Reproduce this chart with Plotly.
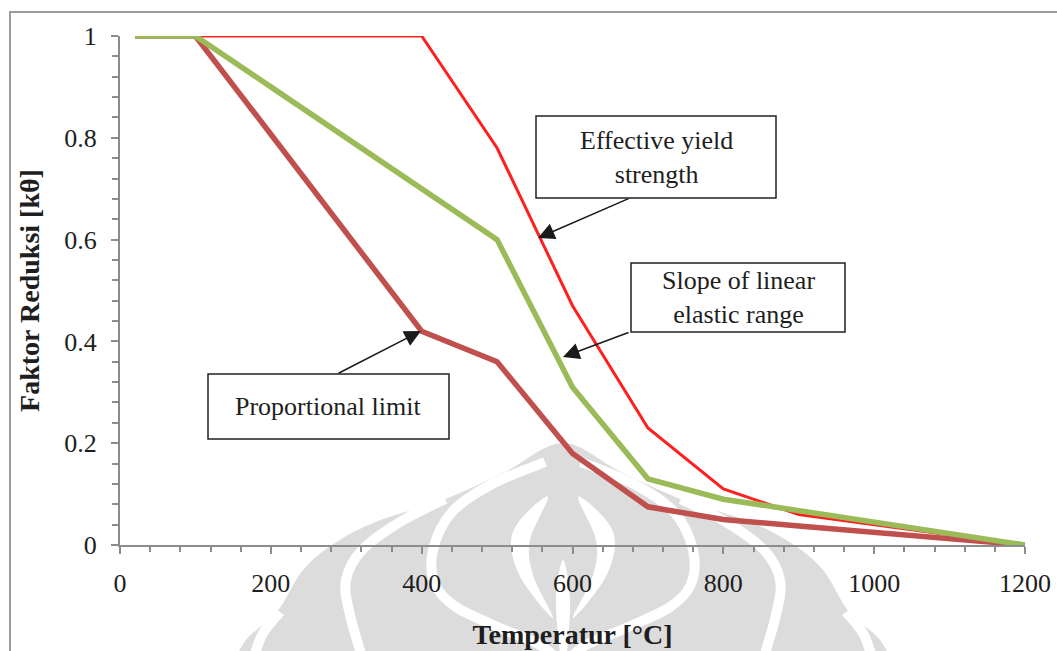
import plotly.graph_objects as go

# ---------------- data ----------------
temps = [20, 100, 200, 300, 400, 500, 600, 700, 800, 900, 1000, 1100, 1200]
yield_strength = [1, 1, 1, 1, 1, 0.78, 0.47, 0.23, 0.11, 0.06, 0.04, 0.02, 0]
elastic_slope = [1, 1, 0.9, 0.8, 0.7, 0.6, 0.31, 0.13, 0.09, 0.0675, 0.045, 0.0225, 0]
proportional_limit = [1, 1, 0.807, 0.613, 0.42, 0.36, 0.18, 0.075, 0.05, 0.0375, 0.025, 0.0125, 0]

x_ticks = [0, 200, 400, 600, 800, 1000, 1200]
x_labels = ["0", "200", "400", "600", "800", "1000", "1200"]
y_ticks = [0, 0.2, 0.4, 0.6, 0.8, 1]
y_labels = ["0", "0.2", "0.4", "0.6", "0.8", "1"]

x_title = "Temperatur [°C]"
y_title = "Faktor Reduksi [kθ]"
label_yield = "Effective yield<br>strength"
label_slope = "Slope of linear<br>elastic range"
label_prop = "Proportional limit"

# ---------------- geometry helpers ----------------
W, H = 1057, 651
# page-pixel plot area: x 120..1025, y 36..545
ML, MT = 120, 36
MR, MB = W - 1025, H - 545
PW, PH = W - ML - MR, H - MT - MB
SERIF = "Liberation Serif"
TXT = "#1e1e1e"
AX = "#8c8c8c"


def P(px, py):
    """page pixel -> paper coords"""
    return ((px - ML) / PW, (H - MB - py) / PH)


def dx(px):
    return P(px, 0)[0] * 1200


def dy(py):
    return P(0, py)[1]


def smooth(points, closed=False):
    pts = [P(*p) for p in points]
    n = len(pts)
    if closed:
        ext = [pts[-1]] + pts + [pts[0], pts[1]]
    else:
        ext = [pts[0]] + pts + [pts[-1]]
    d = "M %.5f %.5f" % pts[0]
    segs = n if closed else n - 1
    for i in range(segs):
        p0, p1, p2, p3 = ext[i], ext[i + 1], ext[i + 2], ext[i + 3]
        c1 = (p1[0] + (p2[0] - p0[0]) / 6, p1[1] + (p2[1] - p0[1]) / 6)
        c2 = (p2[0] - (p3[0] - p1[0]) / 6, p2[1] - (p3[1] - p1[1]) / 6)
        d += " C %.5f %.5f %.5f %.5f %.5f %.5f" % (c1 + c2 + p2)
    if closed:
        d += " Z"
    return d


CX = 563


def mirror(points):
    return [(2 * CX - x, y) for x, y in points]


GREY = "#dcdcdc"
shapes = []
# outer frame
fx0, fy1 = P(10, 12)
fx1, fy0 = P(1075, 675)
shapes.append(dict(type="rect", xref="paper", yref="paper", x0=fx0, x1=fx1, y0=fy0, y1=fy1,
                   line=dict(color="#9a9a9a", width=2), fillcolor="white", layer="below"))

# watermark silhouette
left_outline = [(228, 675), (246, 640), (277, 612), (303, 570), (335, 543), (378, 521),
                (443, 500), (505, 472), (563, 443)]
right_outline = mirror(left_outline[:-1])[::-1]
shapes.append(dict(type="path", xref="paper", yref="paper",
                   path=smooth(left_outline + right_outline, closed=False) + " Z",
                   fillcolor=GREY, line=dict(width=0), layer="below"))

white_lines = []
c1 = [(445, 499), (400, 522), (362, 550), (346, 580), (350, 615), (366, 670)]
c2 = [(545, 462), (492, 484), (452, 512), (433, 550), (435, 584), (456, 607), (500, 628), (540, 645), (563, 665)]
c0 = [(280, 612), (262, 635), (250, 670)]
for c in (c0, c1, c2):
    white_lines.append(c)
    white_lines.append(mirror(c))
for c in white_lines:
    shapes.append(dict(type="path", xref="paper", yref="paper", path=smooth(c),
                       line=dict(color="white", width=10), layer="below"))

# central crescents
cres_l = [(548, 497), (520, 520), (511, 545), (522, 580), (553, 618), (533, 575), (530, 540)]
shapes.append(dict(type="path", xref="paper", yref="paper", path=smooth(cres_l, closed=True),
                   fillcolor="white", line=dict(width=0), layer="below"))
shapes.append(dict(type="path", xref="paper", yref="paper", path=smooth(mirror(cres_l), closed=True),
                   fillcolor="white", line=dict(width=0), layer="below"))
shapes.append(dict(type="path", xref="paper", yref="paper",
                   path=smooth([(563, 560), (556, 600), (561, 660), (566, 660), (570, 600)], closed=True),
                   fillcolor="white", line=dict(width=0), layer="below"))

# ---------------- traces ----------------
fig = go.Figure()
fig.add_trace(go.Scatter(x=temps, y=yield_strength, mode="lines", name="Effective yield strength",
                         line=dict(color="#ff1f1f", width=3), cliponaxis=False))
fig.add_trace(go.Scatter(x=temps, y=proportional_limit, mode="lines", name="Proportional limit",
                         line=dict(color="#c0504d", width=5.5), cliponaxis=False))
fig.add_trace(go.Scatter(x=temps, y=elastic_slope, mode="lines", name="Slope of linear elastic range",
                         line=dict(color="#9bbb59", width=5.5), cliponaxis=False))

# label boxes
boxes = [
    ((536, 116, 776, 198), label_yield, (656, 157)),
    ((631, 263, 845, 332), label_slope, (738, 297)),
    ((208, 374, 449, 439), label_prop, (328, 406)),
]
annotations = []
for (x0, y0, x1, y1), txt, (tx, ty) in boxes:
    shapes.append(dict(type="rect", xref="x", yref="y", x0=dx(x0), x1=dx(x1), y0=dy(y1), y1=dy(y0),
                       line=dict(color="#222222", width=1.5), fillcolor="white", layer="above"))
    annotations.append(dict(x=dx(tx), y=dy(ty), xref="x", yref="y", text=txt, showarrow=False,
                            font=dict(family=SERIF, size=26, color=TXT), align="center"))

arrows = [
    ((630, 198), (538, 238)),
    ((630, 332), (563, 357)),
    ((337, 374), (421, 331)),
]
for (tx, ty), (hx, hy) in arrows:
    annotations.append(dict(x=dx(hx), y=dy(hy), ax=dx(tx), ay=dy(ty), xref="x", yref="y",
                            axref="x", ayref="y", text="", showarrow=True, arrowhead=2,
                            arrowsize=2.2, arrowwidth=1.5, arrowcolor="#1a1a1a", standoff=0))

fig.update_layout(
    width=W, height=H,
    margin=dict(l=ML, r=MR, t=MT, b=MB, autoexpand=False),
    paper_bgcolor="white", plot_bgcolor="rgba(0,0,0,0)",
    showlegend=False,
    shapes=shapes, annotations=annotations,
    font=dict(family=SERIF, color=TXT),
)
fig.update_xaxes(range=[0, 1200], tickvals=x_ticks, ticktext=x_labels, automargin=False,
                 ticks="outside", ticklen=7, tickwidth=2, tickcolor=AX,
                 showline=True, linecolor=AX, linewidth=2, showgrid=False, zeroline=False,
                 tickfont=dict(family=SERIF, size=26, color=TXT), ticklabelstandoff=7,
                 minor=dict(dtick=40, tick0=0, ticks="outside", ticklen=5, tickwidth=2, tickcolor=AX, showgrid=False),
                 title=dict(text="<b>" + x_title + "</b>", font=dict(family=SERIF, size=28, color=TXT), standoff=27))
fig.update_yaxes(range=[0, 1], tickvals=y_ticks, ticktext=y_labels, automargin=False,
                 ticks="outside", ticklen=7, tickwidth=2, tickcolor=AX,
                 showline=True, linecolor=AX, linewidth=2, showgrid=False, zeroline=False,
                 tickfont=dict(family=SERIF, size=26, color=TXT), ticklabelstandoff=9,
                 minor=dict(dtick=0.04, tick0=0, ticks="outside", ticklen=6, tickwidth=2, tickcolor=AX, showgrid=False),
                 title=dict(text="<b>" + y_title + "</b>", font=dict(family=SERIF, size=28, color=TXT), standoff=16))

fig.write_html("out.html", config={"displayModeBar": False},
               post_script="document.body.style.margin='0';document.body.style.overflow='hidden';")
